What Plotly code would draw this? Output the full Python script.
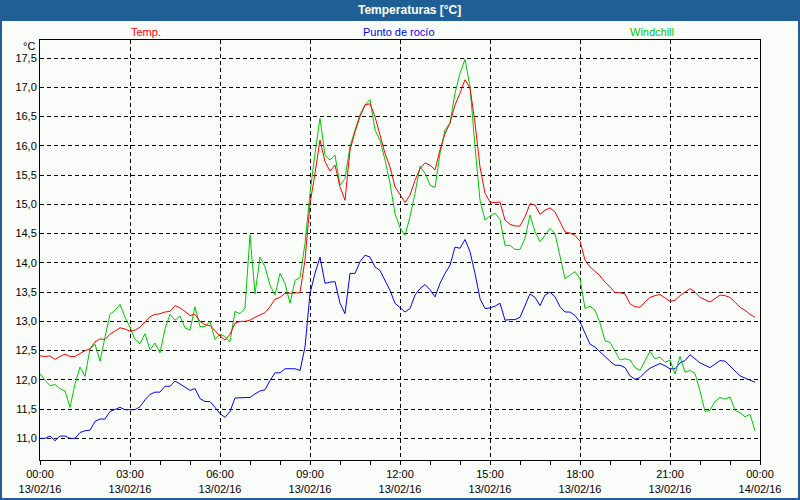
import plotly.graph_objects as go
import pandas as pd

# 10-minute samples, 13/02/16 00:00 .. 23:50
temp = [
    12.41, 12.40, 12.41, 12.35, 12.40, 12.44,
    12.40, 12.40, 12.45, 12.50, 12.53, 12.65,
    12.70, 12.69, 12.78, 12.84, 12.89, 12.87,
    12.83, 12.85, 12.90, 12.99, 13.08, 13.12,
    13.13, 13.16, 13.17, 13.27, 13.23, 13.17,
    13.10, 13.12, 13.00, 12.94, 12.93, 12.84,
    12.75, 12.68, 12.78, 12.97, 13.00, 13.00,
    13.02, 13.07, 13.11, 13.15, 13.25, 13.38,
    13.41, 13.48, 13.48, 13.48, 13.49, 14.05,
    15.01, 15.53, 16.10, 15.73, 15.57, 15.67,
    15.30, 15.07, 15.93, 16.24, 16.50, 16.70,
    16.72, 16.50, 16.16, 15.87, 15.64, 15.30,
    15.17, 15.03, 15.16, 15.41, 15.61, 15.71,
    15.67, 15.59, 15.93, 16.21, 16.39, 16.70,
    16.90, 17.13, 16.99, 16.39, 15.64, 15.19,
    15.04, 15.03, 15.04, 14.73, 14.66, 14.63,
    14.63, 14.79, 15.01, 14.99, 14.83, 14.90,
    14.94, 14.87, 14.70, 14.53, 14.51, 14.47,
    14.37, 14.05, 13.93, 13.86, 13.78, 13.67,
    13.59, 13.49, 13.49, 13.47, 13.30, 13.25,
    13.24, 13.33, 13.41, 13.44, 13.46, 13.40,
    13.34, 13.36, 13.44, 13.50, 13.56, 13.50,
    13.41, 13.37, 13.33, 13.39, 13.45, 13.44,
    13.41, 13.33, 13.24, 13.19, 13.12, 13.07,
]

dew_point = [
    11.00, 11.00, 11.04, 10.96, 11.04, 11.04,
    11.00, 11.00, 11.10, 11.13, 11.14, 11.29,
    11.33, 11.33, 11.46, 11.49, 11.53, 11.49,
    11.49, 11.49, 11.54, 11.66, 11.75, 11.79,
    11.79, 11.89, 11.89, 11.98, 11.93, 11.87,
    11.82, 11.85, 11.68, 11.63, 11.63, 11.53,
    11.42, 11.36, 11.46, 11.69, 11.69, 11.69,
    11.70, 11.76, 11.81, 11.83, 11.99, 12.12,
    12.12, 12.19, 12.19, 12.19, 12.16, 12.56,
    13.48, 13.82, 14.10, 13.65, 13.67, 13.68,
    13.31, 13.13, 13.82, 13.82, 14.02, 14.13,
    14.10, 13.93, 13.87, 13.70, 13.53, 13.31,
    13.24, 13.16, 13.22, 13.45, 13.56, 13.63,
    13.54, 13.42, 13.65, 13.82, 13.96, 14.27,
    14.25, 14.40, 14.19, 13.82, 13.39, 13.22,
    13.23, 13.26, 13.31, 13.02, 13.03, 13.03,
    13.07, 13.26, 13.47, 13.41, 13.27, 13.45,
    13.50, 13.42, 13.25, 13.16, 13.16, 13.10,
    12.99, 12.80, 12.61, 12.56, 12.48, 12.39,
    12.32, 12.25, 12.25, 12.21, 12.07, 12.01,
    12.04, 12.13, 12.20, 12.24, 12.28, 12.24,
    12.19, 12.19, 12.29, 12.33, 12.43, 12.36,
    12.29, 12.25, 12.21, 12.27, 12.33, 12.32,
    12.24, 12.15, 12.07, 12.03, 12.00, 11.96,
]

windchill = [
    12.10, 11.99, 11.90, 11.92, 11.85, 11.81,
    11.53, 11.93, 12.22, 12.06, 12.53, 12.61,
    12.32, 12.73, 13.12, 13.19, 13.29, 13.07,
    12.90, 12.69, 12.62, 12.79, 12.51, 12.63,
    12.46, 12.87, 13.12, 13.02, 13.09, 12.89,
    12.85, 13.25, 12.91, 12.91, 13.00, 12.69,
    12.78, 12.74, 12.65, 13.17, 13.13, 13.23,
    14.48, 13.47, 14.10, 13.93, 13.62, 13.45,
    13.82, 13.65, 13.31, 13.70, 13.75, 14.33,
    15.19, 15.87, 16.47, 15.84, 15.76, 15.84,
    15.33, 15.44, 15.99, 16.27, 16.53, 16.70,
    16.79, 16.27, 16.10, 15.76, 15.36, 14.84,
    14.60, 14.47, 14.79, 15.19, 15.65, 15.53,
    15.33, 15.29, 15.87, 16.27, 16.39, 16.90,
    17.24, 17.48, 17.01, 15.99, 15.07, 14.73,
    14.80, 14.85, 14.74, 14.30, 14.30, 14.23,
    14.23, 14.42, 14.82, 14.53, 14.36, 14.47,
    14.59, 14.50, 14.10, 13.73, 13.79, 13.85,
    13.73, 13.22, 13.26, 13.19, 12.97, 12.67,
    12.64, 12.50, 12.34, 12.36, 12.34, 12.21,
    12.16, 12.33, 12.49, 12.36, 12.39, 12.30,
    12.34, 12.10, 12.40, 12.13, 12.16, 12.11,
    11.81, 11.46, 11.48, 11.63, 11.70, 11.67,
    11.71, 11.48, 11.44, 11.37, 11.41, 11.13,
]

times = pd.date_range("2016-02-13 00:00", periods=len(temp), freq="10min")

x_tick_vals = pd.date_range("2016-02-13 00:00", "2016-02-14 00:00", freq="3h")
x_tick_text = [
    "00:00<br>13/02/16", "03:00<br>13/02/16", "06:00<br>13/02/16",
    "09:00<br>13/02/16", "12:00<br>13/02/16", "15:00<br>13/02/16",
    "18:00<br>13/02/16", "21:00<br>13/02/16", "00:00<br>14/02/16",
]
y_tick_vals = [11.0, 11.5, 12.0, 12.5, 13.0, 13.5, 14.0, 14.5, 15.0, 15.5, 16.0, 16.5, 17.0, 17.5]
y_tick_text = ["11,0", "11,5", "12,0", "12,5", "13,0", "13,5", "14,0", "14,5",
               "15,0", "15,5", "16,0", "16,5", "17,0", "17,5"]

series_names = ["Temp.", "Punto de rocío", "Windchill"]
RED, BLUE, GREEN = "#FF0000", "#0000FF", "#00C800"

FONT = "Liberation Sans, Arial, sans-serif"
BG = "#FAFCFA"
BAR = "#1F5F96"

fig = go.Figure()
fig.add_trace(go.Scatter(x=times, y=dew_point, mode="lines", name=series_names[1],
                         line=dict(color=BLUE, width=1)))
fig.add_trace(go.Scatter(x=times, y=windchill, mode="lines", name=series_names[2],
                         line=dict(color=GREEN, width=1)))
fig.add_trace(go.Scatter(x=times, y=temp, mode="lines", name=series_names[0],
                         line=dict(color=RED, width=1)))

# geometry in paper coords: plot area is x 40..760, y 40..460 px
def px_x(p):
    return (p - 40) / 720.0

def px_y(p):
    return (460 - p) / 420.0

shapes = [
    # title bar
    dict(type="rect", xref="paper", yref="paper", x0=px_x(0), x1=px_x(800),
         y0=px_y(21), y1=px_y(0), fillcolor=BAR, line=dict(width=0), layer="above"),
    # outer border
    dict(type="rect", xref="paper", yref="paper", x0=px_x(1), x1=px_x(799),
         y0=px_y(499), y1=px_y(1), line=dict(color=BAR, width=2), layer="above"),
]

annotations = [
    dict(text="<b>Temperaturas [°C]</b>", xref="paper", yref="paper",
         x=px_x(410), y=px_y(10), xanchor="center", yanchor="middle", showarrow=False,
         font=dict(family=FONT, size=12, color="white")),
    dict(text=series_names[0], xref="paper", yref="paper", x=px_x(146), y=px_y(32),
         xanchor="center", yanchor="middle", showarrow=False,
         font=dict(family=FONT, size=11, color=RED)),
    dict(text=series_names[1], xref="paper", yref="paper", x=px_x(399), y=px_y(32),
         xanchor="center", yanchor="middle", showarrow=False,
         font=dict(family=FONT, size=11, color=BLUE)),
    dict(text=series_names[2], xref="paper", yref="paper", x=px_x(652), y=px_y(32),
         xanchor="center", yanchor="middle", showarrow=False,
         font=dict(family=FONT, size=11, color=GREEN)),
    dict(text="°C", xref="paper", yref="paper", x=px_x(37), y=px_y(46),
         xanchor="right", yanchor="middle", showarrow=False,
         font=dict(family=FONT, size=11, color="black")),
]

fig.update_layout(
    width=800, height=500,
    margin=dict(l=40, r=40, t=40, b=40, autoexpand=False),
    paper_bgcolor=BG, plot_bgcolor=BG,
    showlegend=False,
    font=dict(family=FONT, size=11, color="black"),
    shapes=shapes, annotations=annotations,
)

fig.update_xaxes(
    type="date", automargin=False,
    range=[x_tick_vals[0], x_tick_vals[-1]],
    tickvals=list(x_tick_vals), ticktext=x_tick_text,
    tickangle=0,
    showline=True, linecolor="black", linewidth=1, mirror=True,
    ticks="outside", ticklen=4, tickcolor="black",
    showgrid=True, gridcolor="black", gridwidth=1, griddash="4px,3px",
    minor=dict(dtick=3600000, ticks="outside", ticklen=4, tickcolor="black", showgrid=False),
    zeroline=False,
    tickfont=dict(family=FONT, size=11, color="black"),
)
fig.update_yaxes(
    automargin=False,
    range=[10.63, 17.81],
    tickvals=y_tick_vals, ticktext=y_tick_text,
    showline=True, linecolor="black", linewidth=1, mirror=True,
    ticks="",
    showgrid=True, gridcolor="black", gridwidth=1, griddash="4px,3px",
    zeroline=False,
    tickfont=dict(family=FONT, size=11, color="black"),
)

fig.write_html("out.html",
               config={"displayModeBar": False},
               post_script="document.body.style.margin='0';document.body.style.overflow='hidden';")
